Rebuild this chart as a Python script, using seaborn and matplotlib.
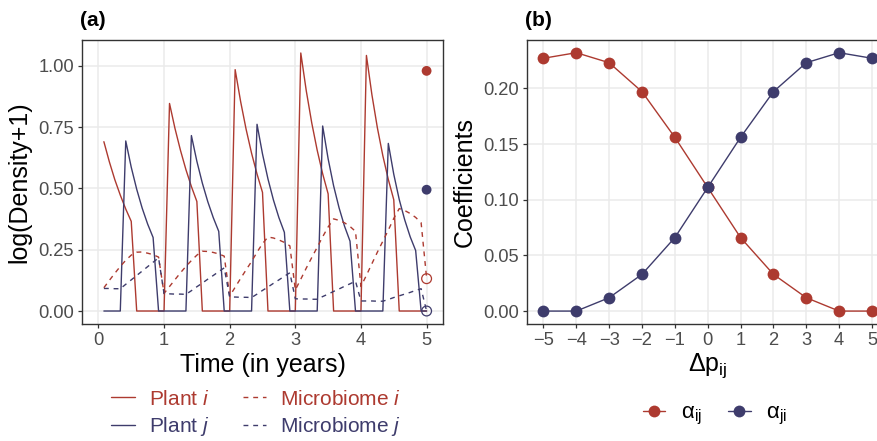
import matplotlib
matplotlib.use("Agg")
import matplotlib.pyplot as plt
from matplotlib.lines import Line2D
import numpy as np
import pandas as pd
import seaborn as sns

# ---- data ----
months = list(range(1, 61))

plant_i = [0.691, 0.609, 0.536, 0.473, 0.416, 0.366, 0, 0, 0, 0, 0, 0,
           0.847, 0.745, 0.656, 0.577, 0.508, 0.447, 0, 0, 0, 0, 0, 0,
           0.985, 0.855, 0.742, 0.644, 0.559, 0.484, 0, 0, 0, 0, 0, 0,
           1.053, 0.899, 0.768, 0.656, 0.560, 0.478, 0, 0, 0, 0, 0, 0,
           1.043, 0.883, 0.748, 0.634, 0.537, 0.454, 0, 0, 0, 0, 0, 0]

plant_j = [0, 0, 0, 0, 0.694, 0.587, 0.497, 0.420, 0.355, 0.300, 0, 0,
           0, 0, 0, 0, 0.716, 0.611, 0.522, 0.446, 0.381, 0.325, 0, 0,
           0, 0, 0, 0, 0.762, 0.641, 0.539, 0.453, 0.381, 0.321, 0, 0,
           0, 0, 0, 0, 0.755, 0.621, 0.511, 0.421, 0.346, 0.285, 0, 0,
           0, 0, 0, 0, 0.684, 0.558, 0.455, 0.372, 0.303, 0.247, 0, 0]

microbe_i = [0.095, 0.125, 0.154, 0.182, 0.207, 0.228, 0.240, 0.241, 0.236, 0.230, 0.220, 0.072,
             0.100, 0.128, 0.156, 0.182, 0.206, 0.228, 0.244, 0.243, 0.239, 0.233, 0.224, 0.061,
             0.097, 0.133, 0.168, 0.202, 0.240, 0.275, 0.302, 0.298, 0.290, 0.280, 0.266, 0.086,
             0.130, 0.175, 0.218, 0.260, 0.303, 0.343, 0.376, 0.370, 0.360, 0.345, 0.325, 0.100,
             0.146, 0.193, 0.240, 0.285, 0.330, 0.378, 0.418, 0.410, 0.398, 0.382, 0.360, 0.135]

microbe_j = [0.092, 0.092, 0.091, 0.091, 0.109, 0.127, 0.145, 0.163, 0.181, 0.199, 0.217, 0.071,
             0.070, 0.069, 0.069, 0.068, 0.083, 0.099, 0.114, 0.130, 0.145, 0.161, 0.176, 0.057,
             0.057, 0.056, 0.056, 0.055, 0.069, 0.084, 0.098, 0.113, 0.127, 0.142, 0.156, 0.050,
             0.049, 0.049, 0.048, 0.048, 0.059, 0.069, 0.080, 0.090, 0.101, 0.111, 0.122, 0.041,
             0.041, 0.041, 0.040, 0.040, 0.047, 0.055, 0.062, 0.069, 0.076, 0.084, 0.091, 0.0]

# equilibrium points drawn at t = 5
end_time = 5
end_plant = [0.98, 0.495]      # plant i, plant j
end_microbe = [0.132, 0.0]     # microbiome i, microbiome j

delta_p = [-5, -4, -3, -2, -1, 0, 1, 2, 3, 4, 5]
alpha_ij = [0.227, 0.232, 0.223, 0.197, 0.156, 0.111, 0.066, 0.033, 0.012, 0.0, 0.0]
alpha_ji = [0.0, 0.0, 0.012, 0.033, 0.066, 0.111, 0.156, 0.197, 0.223, 0.232, 0.227]

RED = "#AD3A30"
BLUE = "#3E3C6C"

sns.set_style("white")
plt.rcParams["font.family"] = ["Liberation Sans", "DejaVu Sans"]
plt.rcParams["mathtext.fontset"] = "custom"
plt.rcParams["mathtext.rm"] = "Liberation Sans"
plt.rcParams["mathtext.it"] = "Liberation Sans:italic"
plt.rcParams["text.color"] = "black"
plt.rcParams["axes.labelcolor"] = "black"

fig = plt.figure(figsize=(8.78, 4.41), dpi=100)
ax1 = fig.add_axes([82 / 878, 117 / 441, 361 / 878, 284 / 441])
ax2 = fig.add_axes([527 / 878, 117 / 441, 361.4 / 878, 284 / 441])


def style_axes(ax):
    ax.grid(True, color="#EBEBEB", lw=1.1)
    ax.set_axisbelow(True)
    for sp in ax.spines.values():
        sp.set_color("#333333")
        sp.set_linewidth(1.0)
        sp.set_visible(True)
    ax.tick_params(axis="both", which="major", direction="out", length=3.2, width=0.9,
                   color="#333333", labelcolor="#4D4D4D", labelsize=13.2, pad=2.5,
                   bottom=True, left=True)


# ---- panel (a): time series ----
t = [m / 12 for m in months]
ts = pd.DataFrame({
    "time": t * 4,
    "value": plant_i + plant_j + microbe_i + microbe_j,
    "series": ["Plant i"] * 60 + ["Plant j"] * 60 + ["Microbiome i"] * 60 + ["Microbiome j"] * 60,
})
pal = {"Plant i": RED, "Plant j": BLUE, "Microbiome i": RED, "Microbiome j": BLUE}
dash = {"Plant i": "", "Plant j": "", "Microbiome i": (3.5, 3.5), "Microbiome j": (3.5, 3.5)}
sns.lineplot(data=ts, x="time", y="value", hue="series", style="series", palette=pal,
             dashes=dash, lw=1.0, legend=False, ax=ax1, estimator=None)

ax1.scatter([end_time] * 2, end_plant, s=50, color=[RED, BLUE], zorder=5, linewidths=0)
ax1.scatter([end_time] * 2, end_microbe, s=50, facecolors="none", edgecolors=[RED, BLUE],
            linewidths=0.9, zorder=5)

style_axes(ax1)
ax1.set_xlim(-0.25, 5.25)
ax1.set_ylim(-0.053, 1.106)
ax1.set_xticks([0, 1, 2, 3, 4, 5])
ax1.set_yticks([0, 0.25, 0.5, 0.75, 1.0])
ax1.set_yticklabels(["0.00", "0.25", "0.50", "0.75", "1.00"])
ax1.set_xlabel("Time (in years)", fontsize=18, labelpad=3)
ax1.set_ylabel("log(Density+1)", fontsize=18, labelpad=5)
ax1.set_title("(a)", loc="left", fontsize=15, fontweight="bold", pad=10, x=-0.005)

leg_a = [
    Line2D([], [], color=RED, lw=1.0),
    Line2D([], [], color=BLUE, lw=1.0),
    Line2D([], [], color=RED, lw=1.0, ls=(0, (3.5, 3.5))),
    Line2D([], [], color=BLUE, lw=1.0, ls=(0, (3.5, 3.5))),
]
leg1 = fig.legend(leg_a, [r"Plant $\mathit{i}$", r"Plant $\mathit{j}$",
                          r"Microbiome $\mathit{i}$", r"Microbiome $\mathit{j}$"],
                  ncol=2, loc="center", bbox_to_anchor=(256 / 878, 1 - 414 / 441),
                  frameon=False, fontsize=15, handlelength=1.15, handletextpad=0.65,
                  columnspacing=1.6, labelspacing=0.32)
for txt, c in zip(leg1.get_texts(), [RED, BLUE, RED, BLUE]):
    txt.set_color(c)

# ---- panel (b): coefficients ----
coef = pd.DataFrame({
    "dp": delta_p * 2,
    "coef": alpha_ij + alpha_ji,
    "which": ["ij"] * len(delta_p) + ["ji"] * len(delta_p),
})
sns.lineplot(data=coef, x="dp", y="coef", hue="which", palette={"ij": RED, "ji": BLUE},
             marker="o", markersize=8.5, markeredgewidth=0, lw=1.0, legend=False,
             ax=ax2, estimator=None)

style_axes(ax2)
ax2.set_xlim(-5.5, 5.5)
ax2.set_ylim(-0.0116, 0.2434)
ax2.set_xticks(delta_p)
ax2.set_xticklabels([str(v).replace("-", "\u2212") for v in delta_p])
ax2.set_yticks([0, 0.05, 0.1, 0.15, 0.2])
ax2.set_yticklabels(["0.00", "0.05", "0.10", "0.15", "0.20"])
ax2.set_xlabel(r"$\Delta\mathrm{p}_{\mathrm{ij}}$", fontsize=18, labelpad=2)
ax2.set_ylabel("Coefficients", fontsize=18, labelpad=5)
ax2.set_title("(b)", loc="left", fontsize=15, fontweight="bold", pad=10, x=-0.005)

leg_b = [
    Line2D([], [], color=RED, lw=1.0, marker="o", markersize=8.5, markeredgewidth=0),
    Line2D([], [], color=BLUE, lw=1.0, marker="o", markersize=8.5, markeredgewidth=0),
]
fig.legend(leg_b, [r"$\mathrm{\alpha}_{\mathrm{ij}}$", r"$\mathrm{\alpha}_{\mathrm{ji}}$"],
           ncol=2, loc="center", bbox_to_anchor=(715 / 878, 1 - 415 / 441), frameon=False,
           fontsize=16, handlelength=1.0, handletextpad=0.7, columnspacing=1.2)

fig.savefig("out.png", dpi=100)
